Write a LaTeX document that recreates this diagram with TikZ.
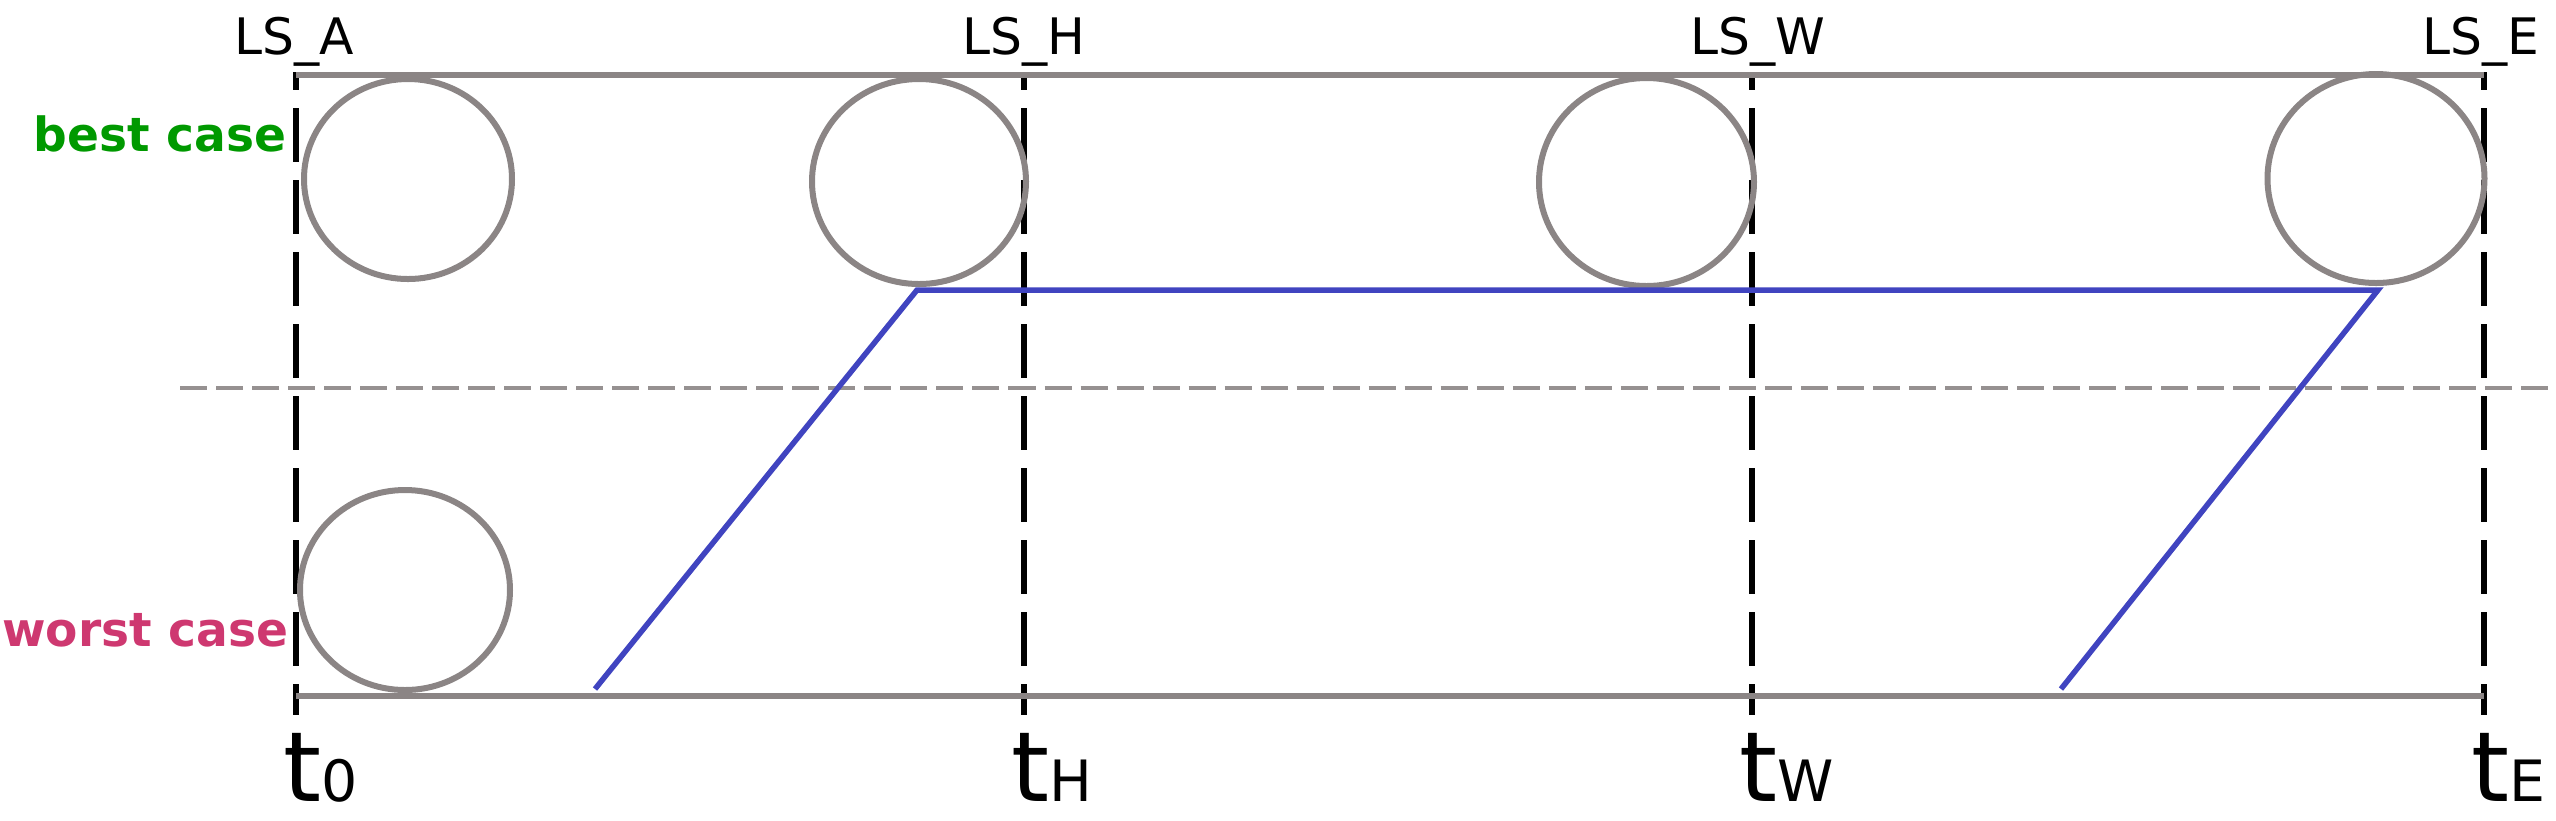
\documentclass[tikz,border=0pt]{standalone}
\usepackage{fontspec}
\setmainfont{DejaVu Sans}
\usepackage{tikz}
\usetikzlibrary{positioning,calc}
\usepackage{xcolor}
\definecolor{railgray}{RGB}{139,133,133}
\definecolor{midgray}{RGB}{150,145,145}
\definecolor{pathblue}{RGB}{64,68,192}
\definecolor{bestgreen}{RGB}{0,153,0}
\definecolor{worstpink}{RGB}{206,56,112}

\begin{document}
\begin{tikzpicture}[x=0.01cm,y=-0.01cm,
  rail/.style={draw=railgray,line width=0.06cm},
  stopline/.style={draw=black,line width=0.06cm,dash pattern=on 0.54cm off 0.18cm,dash phase=0.36cm},
  split/.style={draw=midgray,line width=0.04cm,dash pattern=on 0.27cm off 0.09cm},
  route/.style={draw=pathblue,line width=0.055cm,line join=miter},
  stoplabel/.style={anchor=base west,inner sep=0pt,font=\fontsize{14.3pt}{16pt}\selectfont},
  caselabel/.style={anchor=base east,inner sep=0pt,font=\bfseries\fontsize{13.4pt}{16pt}\selectfont},
  timelabel/.style={anchor=base west,inner sep=0pt,font=\fontsize{27.6pt}{32pt}\selectfont}]
\useasboundingbox (0,0) rectangle (2556,820);

\foreach \x/\ls/\sub in {296/A/0,1024/H/H,1752/W/W,2484/E/E}{
  \coordinate (top\ls) at (\x,72);
  \coordinate (bot\ls) at (\x,715);
  \coordinate (upper\ls) at (\x,75);
  \coordinate (lower\ls) at (\x,696);
  \draw[stopline] (top\ls) -- (bot\ls);
  \node[stoplabel] (ls\ls) at (\x-62,54) {LS\_\ls};
  \node[timelabel] (t\ls) at (\x-13,801) {t{\fontsize{16.2pt}{18pt}\selectfont\sub}};
}
\draw[rail] (upperA) -- (upperE);
\draw[rail] (lowerA) -- (lowerE);

\coordinate (splitL) at (180,388);
\coordinate (splitR) at (2556,388);
\draw[split] (splitL) -- (splitR);

\draw[rail] (408,179) ellipse [x radius=104,y radius=100];
\draw[rail] (919,181.5) ellipse [x radius=107,y radius=102.5];
\draw[rail] (1646.5,182) ellipse [x radius=107.5,y radius=104];
\draw[rail] (2376,178.5) ellipse [x radius=108.5,y radius=104.5];
\draw[rail] (405,590) ellipse [x radius=105,y radius=100];

\coordinate (r1) at (595,689);
\coordinate (r2) at (917,290);
\coordinate (r3) at (2378,290);
\coordinate (r4) at (2061,689);
\draw[route] (r1) -- (r2) -- (r3) -- (r4);

\node[caselabel,text=bestgreen] (best) at (287,151) {best case};
\node[caselabel,text=worstpink] (worst) at (289,646) {worst case};
\end{tikzpicture}
\end{document}
